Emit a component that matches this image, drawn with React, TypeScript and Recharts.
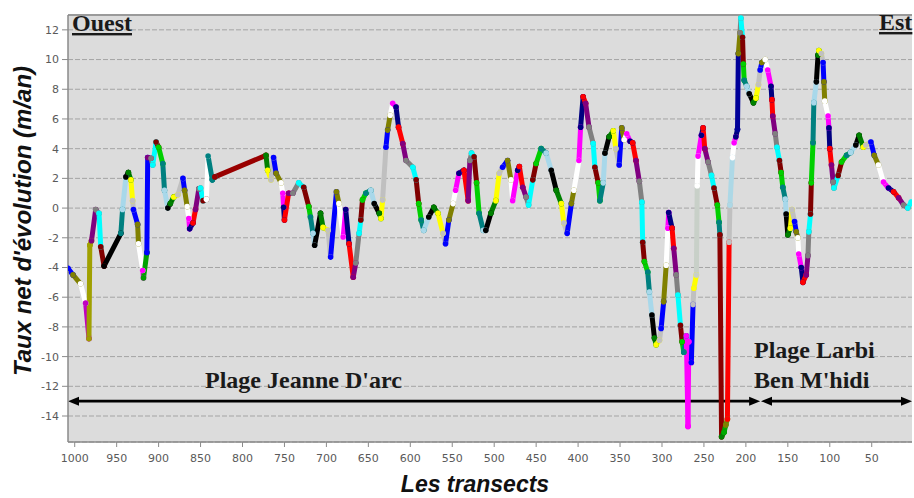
import React from 'react';
import { LineChart, Line, XAxis, YAxis, CartesianGrid, ReferenceLine } from 'recharts';

// Transect numbers (x) and net evolution rates in m/an (y)
const transects = [
  1008, 1002, 993, 987, 983, 982, 980, 975, 971, 969, 965, 945, 943, 939, 936, 933, 931, 930, 925, 924,
  919, 918, 914, 913, 909, 907, 903, 900, 895, 893, 889, 886, 882, 877, 871, 869, 866, 864, 863, 859,
  856, 852, 850, 847, 843, 841, 836, 833, 772, 770, 766, 763, 760, 754, 752, 751, 750, 745, 740, 733,
  727, 721, 719, 716, 714, 707, 704, 698, 695, 688, 685, 680, 677, 673, 668, 665, 661, 659, 657, 653,
  647, 643, 637, 635, 633, 629, 627, 624, 621, 617, 614, 609, 605, 597, 593, 590, 587, 584, 578, 572,
  567, 561, 558, 554, 549, 546, 542, 536, 531, 529, 527, 524, 521, 518, 513, 510, 504, 498, 494, 490,
  484, 480, 478, 472, 470, 466, 462, 459, 454, 450, 444, 438, 432, 426, 420, 417, 413, 408, 405, 399,
  397, 394, 391, 387, 382, 380, 376, 374, 370, 368, 363, 358, 355, 351, 348, 345, 342, 338, 335, 331,
  327, 324, 323, 321, 317, 315, 312, 309, 307, 303, 301, 298, 295, 293, 292, 288, 286, 283, 281, 278,
  276, 274, 271, 269, 268, 265, 263, 262, 259, 258, 257, 253, 251, 249, 245, 241, 238, 234, 232, 231,
  229, 226, 224, 222, 220, 219, 216, 214, 212, 210, 209, 207, 206, 204, 203, 202, 199, 196, 191, 188,
  185, 183, 181, 177, 174, 170, 169, 168, 165, 163, 160, 158, 156, 153, 152, 150, 147, 145, 142, 140,
  138, 137, 134, 132, 128, 126, 125, 123, 122, 120, 119, 116, 114, 113, 110, 108, 107, 106, 102, 101,
  100, 98, 96, 95, 90, 86, 80, 75, 69, 65, 60, 57, 51, 47, 42, 36, 30, 24, 18, 12,
  7, 3,
];

const rates = [
  -4.05, -4.5, -5.1, -6.4, -8.8, -2.5, -2.2, -0.1, -0.35, -2.6, -3.9, -1.7, -0.1, 2.1, 2.4, 1.9, 0.5, -0.1, -1.1, -2.4,
  -4.2, -4.7, -3.0, 3.4, 3.35, 2.9, 4.45, 4.1, 3.0, 1.2, 0.0, 0.3, 0.75, 0.9, 2.0, 1.2, 0.1, -0.7, -1.4, -1.0,
  -0.1, 1.3, 1.35, 0.5, 0.6, 3.5, 1.9, 2.1, 3.55, 2.55, 1.9, 3.4, 2.35, 1.7, 1.0, 0.05, -0.8, 1.0, 1.0, 1.7,
  1.4, 0.1, -0.6, -1.7, -2.5, -0.35, -1.3, -1.5, -3.3, 1.1, 0.3, -1.95, -0.1, -2.4, -4.65, -3.7, -1.7, -0.8, 0.55, 1.0,
  1.2, 0.3, -0.35, -0.7, 0.55, 4.1, 5.25, 6.25, 7.05, 6.8, 5.45, 4.35, 3.2, 2.75, 1.9, 0.3, -0.8, -1.5, -0.6, 0.05,
  -0.35, -1.7, -2.4, -0.8, 0.3, 1.2, 2.35, 2.55, 0.5, 3.2, 3.7, 3.45, 1.7, -0.35, -1.5, -1.5, -0.35, 0.5, 2.35, 2.75,
  3.2, 1.9, 0.5, 2.55, 2.8, 1.4, 0.75, 0.2, 1.9, 3.0, 4.0, 3.7, 2.55, 1.2, 0.3, -1.0, -1.7, 0.3, 1.2, 3.2,
  5.45, 7.5, 7.05, 5.45, 4.35, 2.75, 1.7, 0.5, 1.7, 3.7, 4.8, 5.2, 4.0, 2.9, 5.4, 4.6, 5.0, 4.5, 4.4, 3.2,
  1.8, 0.4, -2.3, -3.6, -4.3, -5.65, -7.2, -8.75, -9.2, -8.9, -8.1, -6.3, -3.85, -1.35, -0.3, -1.35, -2.7, -4.5, -5.85, -7.9,
  -9.0, -9.7, -8.6, -14.7, -9.0, -10.4, -6.5, -5.4, -4.5, 1.5, 3.5, 4.9, 5.4, 4.0, 3.1, 2.2, 1.35, 0.2, -0.95, -1.8,
  -15.4, -15.1, -14.6, -14.2, -2.3, 0.2, 3.4, 4.4, 4.8, 5.3, 10.4, 11.8, 12.8, 11.5, 9.7, 8.6, 8.2, 7.7, 7.1, 7.4,
  8.3, 9.3, 9.8, 10.0, 9.3, 8.2, 7.3, 6.2, 5.0, 4.1, 3.2, 2.4, 1.4, 0.6, -0.4, -1.8, -1.35, -0.1, -0.9, -1.6,
  -2.0, -3.1, -4.0, -5.0, -4.5, -3.2, -1.6, -0.4, 1.7, 4.4, 7.1, 8.5, 10.3, 10.6, 10.4, 9.8, 8.5, 7.2, 6.2, 5.4,
  4.0, 2.9, 1.75, 1.35, 2.2, 3.1, 3.55, 3.75, 4.25, 4.9, 4.1, 4.25, 4.45, 3.55, 2.9, 1.75, 1.35, 1.1, 0.7, 0.2,
  0.0, 0.4,
];

const xTicks = [1000, 950, 900, 850, 800, 750, 700, 650, 600, 550, 500, 450, 400, 350, 300, 250, 200, 150, 100, 50];
const yTicks = [-14, -12, -10, -8, -6, -4, -2, 0, 2, 4, 6, 8, 10, 12];

// Beach extents (arrows) at level -13
const beachSpans: [number, number][] = [[1008, 183], [182, 2]];
const arrowLevel = -13;

const PALETTE = [
  '#0000ff', '#ff0000', '#00d000', '#ffff00', '#ff00ff', '#00ffff', '#000000', '#808000', '#800080',
  '#008080', '#c0c0c0', '#000080', '#800000', '#008000', '#ffffff', '#808080', '#a8d8ea',
];
const SEG_OVERRIDES: Record<number, string> = {
  987: '#c000c0', 983: '#a0a000', 982: '#a0a000', 965: '#000000', 918: '#00a000', 914: '#0000ff',
  843: '#ffffff', 836: '#008080', 833: '#990000', 271: '#ff00ff', 269: '#ff00ff', 268: '#ff00ff',
  265: '#0000ff', 262: '#ffff00', 259: '#c8d0c8', 231: '#8b0000', 229: '#008000', 226: '#00aa00',
  224: '#808000', 222: '#ff0000', 220: '#c0c0c0', 219: '#add8e6', 210: '#000099', 209: '#808000',
};

const rows = transects.map((t, i) => {
  const row: Record<string, number> = { t };
  if (i > 0) row['s' + (i - 1)] = rates[i];
  if (i < transects.length - 1) row['s' + i] = rates[i];
  return row;
});
const segIdx = transects.slice(0, -1).map((_, i) => i);
const segColor = (i: number) => SEG_OVERRIDES[transects[i]] ?? PALETTE[(i * 7) % PALETTE.length];

const ArrowShape = (props: any) => {
  const { x1, y1, x2 } = props;
  const l = Math.min(x1, x2);
  const r = Math.max(x1, x2);
  const y = y1;
  return (
    <g>
      <line x1={l + 6} y1={y} x2={r - 6} y2={y} stroke="#000" strokeWidth={2.6} />
      <polygon points={`${l},${y} ${l + 11},${y - 4.5} ${l + 11},${y + 4.5}`} fill="#000" />
      <polygon points={`${r},${y} ${r - 11},${y - 4.5} ${r - 11},${y + 4.5}`} fill="#000" />
    </g>
  );
};

const serif = '"Liberation Serif", "Times New Roman", serif';
const sans = '"Liberation Sans", Arial, sans-serif';

export default function App() {
  return (
    <div style={{ position: 'absolute', left: 0, top: 0, width: 914, height: 498, background: '#fff' }}>
      <LineChart width={914} height={498} data={rows} margin={{ top: 15, right: 2, bottom: 0, left: 0 }}>
        <CartesianGrid horizontal vertical={false} fill="#dcdcdc" stroke="#a4a4a4" strokeDasharray="5 2" />
        <XAxis
          dataKey="t"
          type="number"
          domain={[2, 1008]}
          reversed
          allowDataOverflow
          ticks={xTicks}
          height={56}
          tickSize={5}
          tickMargin={7}
          tick={{ fontSize: 11, fill: '#5a5a5a', fontFamily: '"DejaVu Sans", sans-serif' }}
          axisLine={{ stroke: '#8a8a8a', strokeWidth: 1.5 }}
          tickLine={{ stroke: '#8a8a8a' }}
        />
        <YAxis
          type="number"
          domain={[-15.75, 13]}
          allowDataOverflow
          ticks={yTicks}
          width={68}
          tickSize={6}
          tickMargin={3}
          tick={{ fontSize: 11, fill: '#5a5a5a', fontFamily: '"DejaVu Sans", sans-serif' }}
          axisLine={{ stroke: '#8a8a8a', strokeWidth: 1.5 }}
          tickLine={{ stroke: '#8a8a8a' }}
        />
        <ReferenceLine y={13} stroke="#9a9a9a" strokeWidth={2} ifOverflow="visible" />
        {beachSpans.map(([a, b], k) => (
          <ReferenceLine
            key={'arrow' + k}
            segment={[{ x: a, y: arrowLevel }, { x: b, y: arrowLevel }]}
            ifOverflow="visible"
            shape={ArrowShape}
          />
        ))}
        {segIdx.map((i) => (
          <Line
            key={'s' + i}
            dataKey={'s' + i}
            type="linear"
            stroke={segColor(i)}
            strokeWidth={5}
            strokeLinecap="round"
            dot={{ r: 2.8, fill: segColor(i), stroke: 'none' }}
            activeDot={false}
            isAnimationActive={false}
            connectNulls={false}
          />
        ))}
      </LineChart>
      <svg width={914} height={498} style={{ position: 'absolute', left: 0, top: 0, pointerEvents: 'none' }}>
        <text x={31} y={221} transform="rotate(-90 31 221)" textAnchor="middle" fontFamily={sans} fontWeight="bold" fontStyle="italic" fontSize={24} fill="#111">
          Taux net d'évolution (m/an)
        </text>
        <text x={475} y={492} textAnchor="middle" fontFamily={sans} fontWeight="bold" fontStyle="italic" fontSize={23} fill="#111">
          Les transects
        </text>
        <text x={72} y={31} fontFamily={serif} fontWeight="bold" fontSize={24} fill="#1a1a1a" textDecoration="underline">
          Ouest
        </text>
        <text x={879} y={30} fontFamily={serif} fontWeight="bold" fontSize={24} fill="#1a1a1a" textDecoration="underline">
          Est
        </text>
        <text x={205} y={388} fontFamily={serif} fontWeight="bold" fontSize={24} fill="#1a1a1a">
          Plage Jeanne D'arc
        </text>
        <text x={754} y={358} fontFamily={serif} fontWeight="bold" fontSize={24} fill="#1a1a1a">
          Plage Larbi
        </text>
        <text x={754} y={388} fontFamily={serif} fontWeight="bold" fontSize={24} fill="#1a1a1a">
          Ben M'hidi
        </text>
      </svg>
    </div>
  );
}
